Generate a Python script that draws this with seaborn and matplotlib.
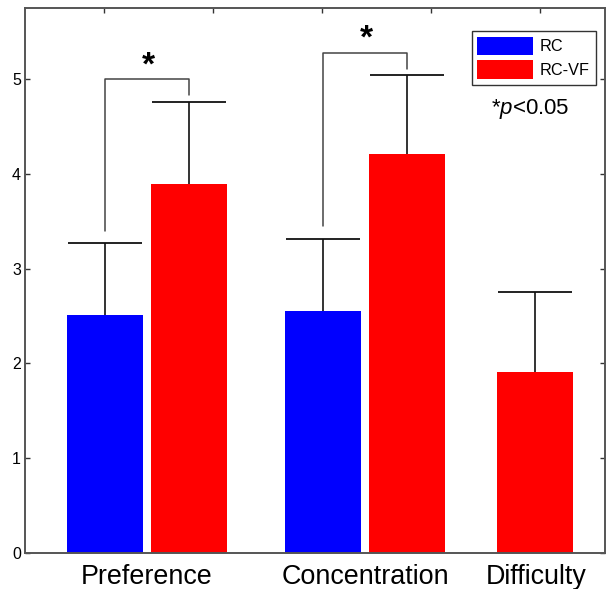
import pandas as pd
import matplotlib
matplotlib.use("Agg")
import matplotlib.pyplot as plt
from matplotlib.patches import Patch
import seaborn as sns

# bar data (positions follow the original group layout)
positions = [1.0, 2.0, 3.6, 4.6, 6.12]
conditions = ["RC", "RC-VF", "RC", "RC-VF", "RC-VF"]
means = [2.51, 3.89, 2.555, 4.21, 1.905]
errors = [0.76, 0.87, 0.755, 0.835, 0.85]

group_labels = ["Preference", "Concentration", "Difficulty"]
group_centers = [1.5, 4.1, 6.13]
top_ticks = [0.993, 2.29, 3.585, 4.88, 6.18]

colors = {"RC": "#0000ff", "RC-VF": "#ff0000"}

df = pd.DataFrame({"pos": positions, "cond": conditions, "mean": means})

sns.set_style("white")
plt.rcParams['font.family'] = ['Liberation Sans', 'DejaVu Sans']
plt.rcParams['text.color'] = 'black'
plt.rcParams['xtick.color'] = 'black'
plt.rcParams['ytick.color'] = 'black'
plt.rcParams['mathtext.fontset'] = 'custom'
plt.rcParams['mathtext.rm'] = 'Liberation Sans'
plt.rcParams['mathtext.it'] = 'Liberation Sans:italic'

fig = plt.figure(figsize=(6.07, 5.89), dpi=100)
ax = fig.add_axes([0.0412, 0.0616, 0.9555, 0.9248])

sns.barplot(data=df, x="pos", y="mean", hue="cond", palette=colors,
            native_scale=True, width=0.905, saturation=1, errorbar=None,
            legend=False, ax=ax, linewidth=0)

# upper error bars only
eb = ax.errorbar(positions, means, yerr=[[0] * len(errors), errors], fmt="none",
                 ecolor="#111111", elinewidth=1.2, capsize=26.6, capthick=1.3)
eb[1][0].set_visible(False)
eb[1][1].set_color("#555555")

# significance brackets
ax.plot([1.0, 1.0, 2.0, 2.0], [3.40, 5.0, 5.0, 4.83], color="#444444", lw=1.1)
ax.plot([3.6, 3.6, 4.6, 4.6], [3.445, 5.28, 5.28, 5.11], color="#444444", lw=1.1)
ax.text(1.515, 5.14, "*", ha="center", va="center", fontsize=24,
        fontweight="bold")
ax.text(4.115, 5.42, "*", ha="center", va="center", fontsize=24,
        fontweight="bold")

# p-value note: plain asterisk (sits high on its own), italic p
ax.text(0.871, 0.815, r"*$\mathit{p}$<0.05", transform=ax.transAxes,
        ha="center", va="center", fontsize=16)

ax.set_xlim(0.0506, 6.955)
ax.set_ylim(0, 5.75)
ax.set_yticks([0, 1, 2, 3, 4, 5])
ax.set_xticks(group_centers)
ax.set_xticklabels(group_labels, fontsize=19.4)
ax.set_xlabel("")
ax.set_ylabel("")
ax.tick_params(axis="x", length=0, pad=8)
ax.tick_params(axis="y", direction="in", length=3.6, width=1, labelsize=11.5,
               right=True, left=True, pad=3, color="#333333")

top = ax.secondary_xaxis("top")
top.set_xticks(top_ticks)
top.set_xticklabels([])
top.tick_params(direction="in", length=3.6, width=1, color="#333333")
top.spines["top"].set_visible(False)

for sp in ax.spines.values():
    sp.set_visible(True)
    sp.set_color("#555555")
    sp.set_linewidth(1.4)

handles = [Patch(facecolor=colors["RC"], edgecolor="none"),
           Patch(facecolor=colors["RC-VF"], edgecolor="none")]
leg = ax.legend(handles, ["RC", "RC-VF"], loc="upper right",
                bbox_to_anchor=(0.984, 0.958), borderaxespad=0, fontsize=11.7,
                handlelength=3.4, handleheight=1.375, labelspacing=0.33,
                handletextpad=0.45, borderpad=0.35, fancybox=False,
                framealpha=1, edgecolor="#333333")
leg.get_frame().set_linewidth(1.0)

fig.savefig("out.png", dpi=100)
